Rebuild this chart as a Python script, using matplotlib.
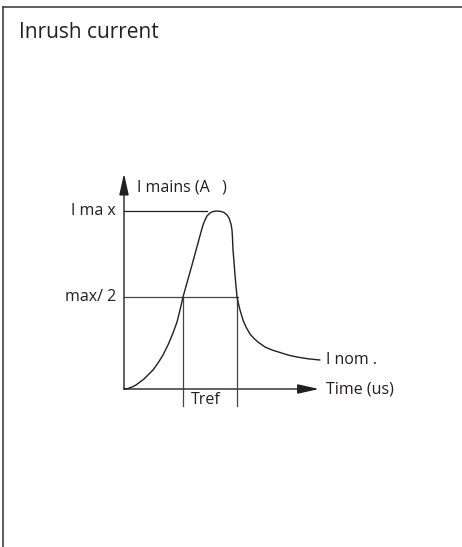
import matplotlib
matplotlib.use("Agg")
import matplotlib.pyplot as plt
from matplotlib.lines import Line2D
from matplotlib.patches import FancyArrowPatch, ArrowStyle

plt.rcParams["font.family"] = ["Open Sans", "DejaVu Sans"]

INK = "#231f20"

# inrush curve (time in % of axis, current in % of Imax)
time_pts = [0, 2.05, 4.10, 6.15, 8.20, 10.26, 11.79, 13.33, 14.87, 17.44, 20.0,
            22.56, 25.13, 27.18, 28.72, 30.26, 34.87, 39.49,
            40.51, 41.54, 42.56, 44.10, 45.64, 47.69, 49.74, 51.28, 52.82, 53.85,
            54.87, 55.38, 55.64, 55.90, 56.41, 56.92, 57.43, 57.95,
            58.72, 59.49, 61.02, 62.56, 64.61, 66.66, 68.72, 72.30, 75.89, 80.0,
            84.10, 88.71, 94.35, 100.5]
current_pts = [0, 0.28, 1.12, 2.25, 3.93, 5.62, 7.30, 8.99, 10.67, 14.61, 19.10,
               24.72, 31.46, 37.64, 44.38, 51.69, 69.66, 88.20,
               92.13, 94.94, 97.19, 98.88, 99.72, 100.0, 99.72, 99.16, 97.75, 96.07,
               92.70, 89.33, 84.83, 78.09, 71.35, 64.05, 57.87, 51.69,
               47.75, 44.38, 38.76, 34.83, 30.90, 28.37, 26.40, 23.60, 21.91, 20.51,
               19.10, 17.98, 16.97, 16.29]

I_MAX = 100.0
I_HALF = 51.7
I_NOM = 16.3
T_PEAK_END = 42.6     # where the Imax guide stops
T_HALF_END = 58.5     # where the max/2 guide stops
T_REF = [30.3, 57.9]  # the two crossings of max/2
T_AXIS_END = 100.0
I_AXIS_END = 121.0

W, H = 462, 547
fig = plt.figure(figsize=(W / 100, H / 100), dpi=100)
fig.patch.set_facecolor("white")

# axes placed so the origin sits at (124, 389) px
ax = fig.add_axes([124 / W, (H - 389) / H, 195 / W, 178 / H])
ax.set_xlim(0, 100)
ax.set_ylim(0, 100)
ax.axis("off")

# frame of the card: left and top edges only
fig.add_artist(Line2D([3 / W, 3 / W], [0, 1 - 7 / H], color="#333333", lw=1.1))
fig.add_artist(Line2D([3 / W, 1], [1 - 7 / H, 1 - 7 / H], color="#333333", lw=1.1))
fig.text(19 / W, 1 - 38 / H, "Inrush current", fontsize=15, color=INK,
         ha="left", va="baseline")

# axes with arrows
for a, b in [((0, 0), (0, I_AXIS_END)), ((0, 0), (T_AXIS_END, 0))]:
    ax.add_patch(FancyArrowPatch(a, b, arrowstyle=ArrowStyle("-|>", head_length=13, head_width=2.9),
                                 mutation_scale=1, shrinkA=0, shrinkB=0, lw=1.0,
                                 color=INK, clip_on=False))

# guide lines
ax.plot([0, T_PEAK_END], [I_MAX, I_MAX], color=INK, lw=0.9, clip_on=False)
ax.plot([0, T_HALF_END], [I_HALF, I_HALF], color="#444444", lw=0.9, clip_on=False)
for t in T_REF:
    ax.plot([t, t], [I_HALF, -9.6], color="#444444", lw=0.9, clip_on=False)

# the curve
ax.plot(time_pts, current_pts, color=INK, lw=1.0, clip_on=False,
        solid_joinstyle="round", solid_capstyle="round")

fs = 11.5
ax.text(6.7, 113, "I mains (A   )", fontsize=fs, color=INK, ha="left", va="center")
ax.text(-4.1, I_MAX, "I ma x", fontsize=fs, color=INK, ha="right", va="center")
ax.text(-4.1, I_HALF, "max/ 2", fontsize=fs, color=INK, ha="right", va="center")
ax.text(103.6, I_NOM, "I nom .", fontsize=fs, color=INK, ha="left", va="center")
ax.text(103.6, 0, "Time (us)", fontsize=fs, color=INK, ha="left", va="center")
ax.text(42.0, -6.2, "Tref", fontsize=fs, color=INK, ha="center", va="center")

fig.savefig("out.png", dpi=100, facecolor="white")
